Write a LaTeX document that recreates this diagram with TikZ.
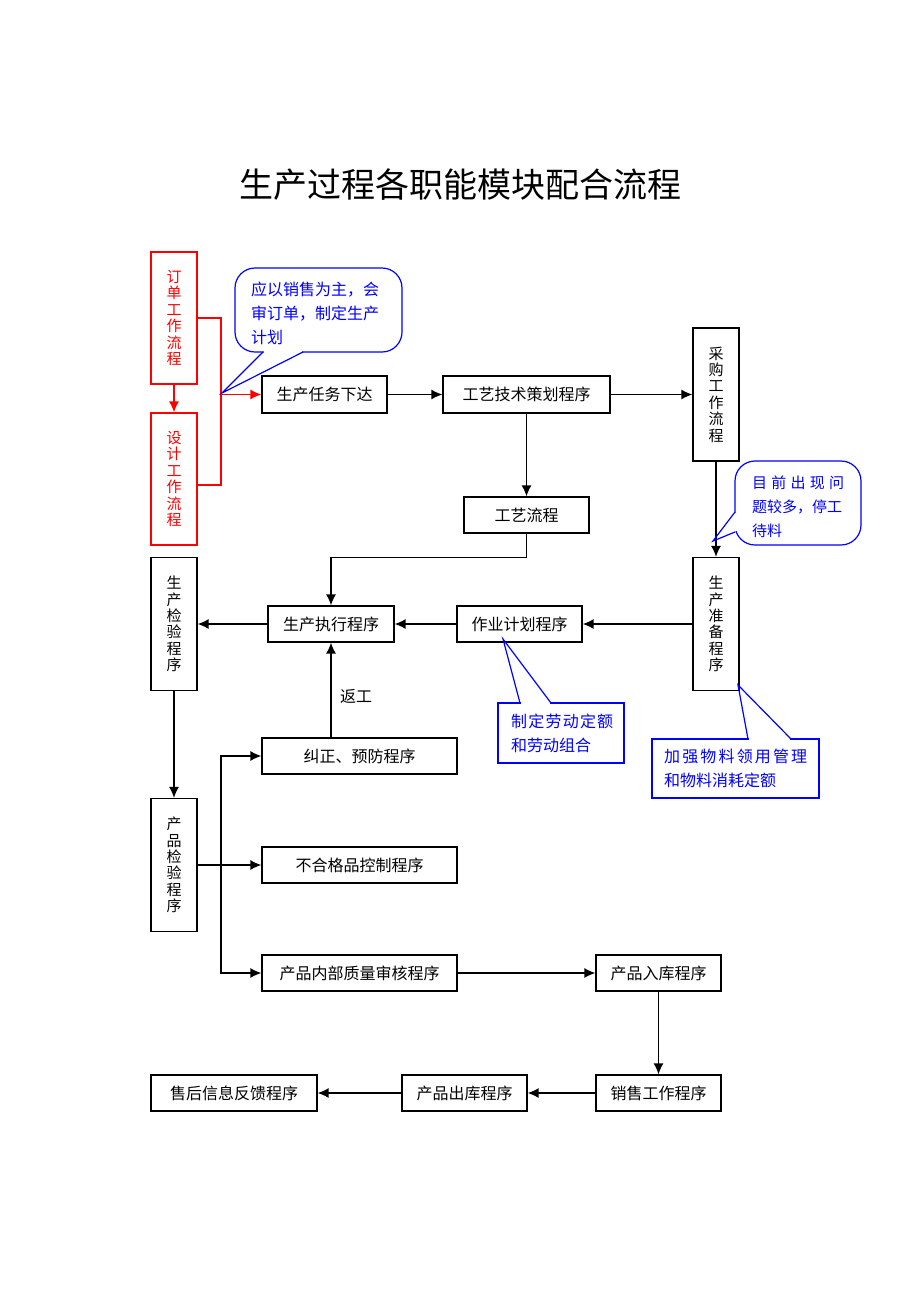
\documentclass[tikz,border=0pt]{standalone}
\usepackage{fontspec}
\setmainfont{Noto Sans CJK SC}
\usetikzlibrary{arrows.meta,calc}
\begin{document}
\begin{tikzpicture}[x=1pt,y=-1pt,
  hbox/.style={draw=black, line width=1.2pt, fill=white, inner sep=0pt, align=center,
     font=\fontsize{16}{18}\selectfont, minimum height=36pt},
  vbox/.style={draw=black, line width=1.2pt, fill=white, inner sep=0pt, align=center,
     font=\fontsize{15}{16.4}\selectfont, minimum width=46pt, minimum height=133pt},
  redbox/.style={vbox, draw=red, text=red},
  arr/.style={line width=1.4pt, -{Latex[length=11pt,width=10pt]}},
  redarr/.style={arr, draw=red, -{Latex[length=11pt,width=10pt,fill=red]}, color=red},
  redline/.style={line width=1.4pt, draw=red},
  callout/.style={draw=blue, line width=1.2pt},
  ctext/.style={text=blue, inner sep=0pt, align=left, font=\fontsize{16}{24}\selectfont}
]
\useasboundingbox (0,0) rectangle (920,1302);

% title
\node[font=\fontsize{34}{36}\selectfont] (title) at (460,185) {生产过程各职能模块配合流程};

% boxes
\node[redbox, minimum height=132pt] (order) at (174,318) {订\\单\\工\\作\\流\\程};
\node[redbox, minimum height=132pt] (design) at (174,479) {设\\计\\工\\作\\流\\程};
\node[hbox, minimum width=125pt, minimum height=37pt] (task) at (324.5,394.5) {生产任务下达};
\node[hbox, minimum width=167pt, minimum height=37pt] (tech) at (526.5,394.5) {工艺技术策划程序};
\node[vbox] (purchase) at (716,394.5) {采\\购\\工\\作\\流\\程};
\node[hbox, minimum width=125pt] (craft) at (526.5,515) {工艺流程};
\node[vbox] (prep) at (716,624) {生\\产\\准\\备\\程\\序};
\node[hbox, minimum width=126pt] (exec) at (331,624) {生产执行程序};
\node[hbox, minimum width=125pt] (plan) at (519.5,624) {作业计划程序};
\node[vbox] (pinsp) at (174,624) {生\\产\\检\\验\\程\\序};
\node[vbox] (qinsp) at (174,865) {产\\品\\检\\验\\程\\序};
\node[hbox, minimum width=195pt] (correct) at (359.5,756) {纠正、预防程序};
\node[hbox, minimum width=195pt] (nonconf) at (359.5,865) {不合格品控制程序};
\node[hbox, minimum width=195pt] (audit) at (359.5,973) {产品内部质量审核程序};
\node[hbox, minimum width=125pt] (store) at (658.5,973) {产品入库程序};
\node[hbox, minimum width=125pt] (sales) at (658.5,1093) {销售工作程序};
\node[hbox, minimum width=125pt] (out) at (464.5,1093) {产品出库程序};
\node[hbox, minimum width=166pt] (after) at (234,1093) {售后信息反馈程序};

% red connectors
\coordinate (brk) at (221,394.5);
\draw[redarr] (order.south) -- (design.north);
\draw[redline] (order.east) -| (brk) |- ($(design.east)+(0,6)$);
\draw[redarr] (brk) -- (task.west);

% black connectors
\draw[arr] (task.east) -- (tech.west);
\draw[arr] (tech.east) -- (purchase.west);
\draw[arr] (tech.south) -- (craft.north);
\draw[arr] (purchase.south) -- (prep.north);
\draw[arr] (craft.south) -- ++(0,24) -| (exec.north);
\draw[arr] (prep.west) -- (plan.east);
\draw[arr] (plan.west) -- (exec.east);
\draw[arr] (exec.west) -- (pinsp.east);
\draw[arr] (pinsp.south) -- (qinsp.north);
\draw[arr] (exec.south |- correct.north) -- node[right=5pt, pos=0.43, font=\fontsize{16}{18}\selectfont] (rework) {返工} (exec.south);
\coordinate (bj) at (221,865);
\draw[arr] (qinsp.east) -- (nonconf.west);
\draw[arr] (bj) |- (correct.west);
\draw[arr] (bj) |- (audit.west);
\draw[arr] (audit.east) -- (store.west);
\draw[arr] (store.south) -- (sales.north);
\draw[arr] (sales.west) -- (out.east);
\draw[arr] (out.west) -- (after.east);

% callout 1
\draw[callout, fill=white, rounded corners=20pt] (235,268) rectangle (402,352);
\coordinate (c1a) at (263,352);
\coordinate (c1b) at (303,352);
\coordinate (c1t) at (222,393);
\fill[white] ($(c1a)+(1,-2)$) rectangle ($(c1b)+(-1,2)$);
\draw[callout] (c1a) -- (c1t) -- (c1b);
\node[ctext, anchor=west] (t1) at (251,313.5) {应以销售为主，会\\审订单，制定生产\\计划};

% callout 2
\draw[callout, fill=white, rounded corners=20pt] (735,461) rectangle (861,545);
\coordinate (c2a) at (735,512);
\coordinate (c2b) at (735,532);
\coordinate (c2t) at (713,541);
\fill[white] ($(c2a)+(-2,1)$) rectangle ($(c2b)+(2,-1)$);
\draw[callout] (c2a) -- (c2t) -- (c2b);
\node[ctext, anchor=west, font=\fontsize{15}{24}\selectfont] (t2) at (752,506.5) {\makebox[92pt][s]{目\hfill 前\hfill 出\hfill 现\hfill 问}\\题较多，停工\\待料};

% callout 3
\draw[callout, fill=white] (498,703) rectangle (624,763);
\coordinate (c3a) at (520,703);
\coordinate (c3b) at (551,703);
\coordinate (c3t) at (503,639);
\fill[white] ($(c3a)+(1,-2)$) rectangle ($(c3b)+(-1,2)$);
\draw[callout] (c3a) -- (c3t) -- (c3b);
\node[ctext, anchor=west] (t3) at (511,733) {\makebox[102pt][s]{制\hfill 定\hfill 劳\hfill 动\hfill 定\hfill 额}\\和劳动组合};

% callout 4
\draw[callout, fill=white] (652,739) rectangle (819,798);
\coordinate (c4a) at (748,739);
\coordinate (c4b) at (791,739);
\coordinate (c4t) at (738,685);
\fill[white] ($(c4a)+(1,-2)$) rectangle ($(c4b)+(-1,2)$);
\draw[callout] (c4a) -- (c4t) -- (c4b);
\node[ctext, anchor=west] (t4) at (664,768.5) {\makebox[143pt][s]{加\hfill 强\hfill 物\hfill 料\hfill 领\hfill 用\hfill 管\hfill 理}\\和物料消耗定额};
\end{tikzpicture}
\end{document}
